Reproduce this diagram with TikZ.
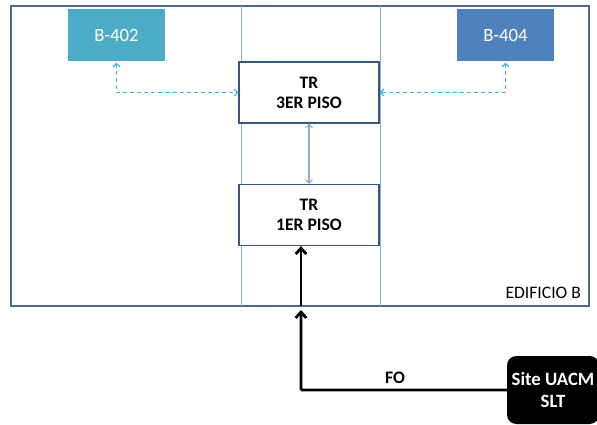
\documentclass[tikz,border=0pt]{standalone}
\usepackage{fontspec}
\setmainfont{Carlito}
\usetikzlibrary{arrows.meta, positioning, shadows}
\definecolor{roomteal}{RGB}{75,172,198}
\definecolor{roomblue}{RGB}{79,129,189}
\definecolor{wallblue}{RGB}{79,104,148}
\definecolor{shaftblue}{RGB}{141,172,212}
\definecolor{rackblue}{RGB}{56,86,130}
\definecolor{linkcyan}{RGB}{64,174,220}

\begin{document}
\begin{tikzpicture}[
    x=0.03cm, y=-0.03cm,
    room/.style={draw=white, line width=1.2pt, minimum width=2.97cm,
                 minimum height=1.62cm, text=white, font=\fontsize{16}{19}\selectfont,
                 drop shadow={opacity=0.25, shadow xshift=0.5pt, shadow yshift=-1pt}},
    rack/.style={draw=rackblue, line width=1pt, fill=white, minimum width=4.2cm,
                 minimum height=1.83cm, align=center, font=\fontsize{15}{17}\selectfont\bfseries},
    site/.style={fill=black, rounded corners=8pt, minimum width=2.76cm, minimum height=2.04cm,
                 text=white, align=center, font=\fontsize{16}{18}\selectfont\bfseries},
    wifi/.style={draw=linkcyan, line width=1pt, dash pattern=on 3.5pt off 2.5pt,
                 {Straight Barb[length=3pt]}-{Straight Barb[length=3pt]}},
    fibra/.style={draw=black, line width=2.4pt, -{Straight Barb[length=5pt, width=9pt]}}
]
    \useasboundingbox (0,0) rectangle (597,424);

    % edificio
    \draw[wallblue, line width=1.6pt] (11,6) rectangle (589,306);
    \draw[shaftblue, line width=0.8pt] (241,6) -- (241,306);
    \draw[shaftblue, line width=0.8pt] (380,6) -- (380,306);
    \node[font=\fontsize{15}{17}\selectfont, anchor=east] (edif) at (585,293) {EDIFICIO B};

    \node[room, fill=roomteal] (b402) at (116.5,35) {B-402};
    \node[room, fill=roomblue] (b404) at (505.5,35) {B-404};

    \node[rack] (tr3) at (309,92.5) {TR\\3ER PISO};
    \node[rack] (tr1) at (309,215) {TR\\1ER PISO};

    \draw[wifi] (b402.south) |- (tr3.west);
    \draw[wifi] (b404.south) |- (tr3.east);
    \draw[shaftblue, line width=0.9pt, {Straight Barb[length=3pt]}-{Straight Barb[length=3pt]}]
        (tr3.south) -- (tr1.north);

    % enlace de fibra
    \node[site] (uacm) at (553,390) {Site UACM\\SLT};
    \coordinate (muro) at (301,306);
    \coordinate (entrada) at (301,310);
    \draw[fibra, rounded corners=1pt] (uacm.west) -| (entrada);
    \draw[fibra] (muro) -- (tr1.south -| muro);
    \node[font=\fontsize{15}{17}\selectfont\bfseries] (fo) at (395,378) {FO};
\end{tikzpicture}
\end{document}
